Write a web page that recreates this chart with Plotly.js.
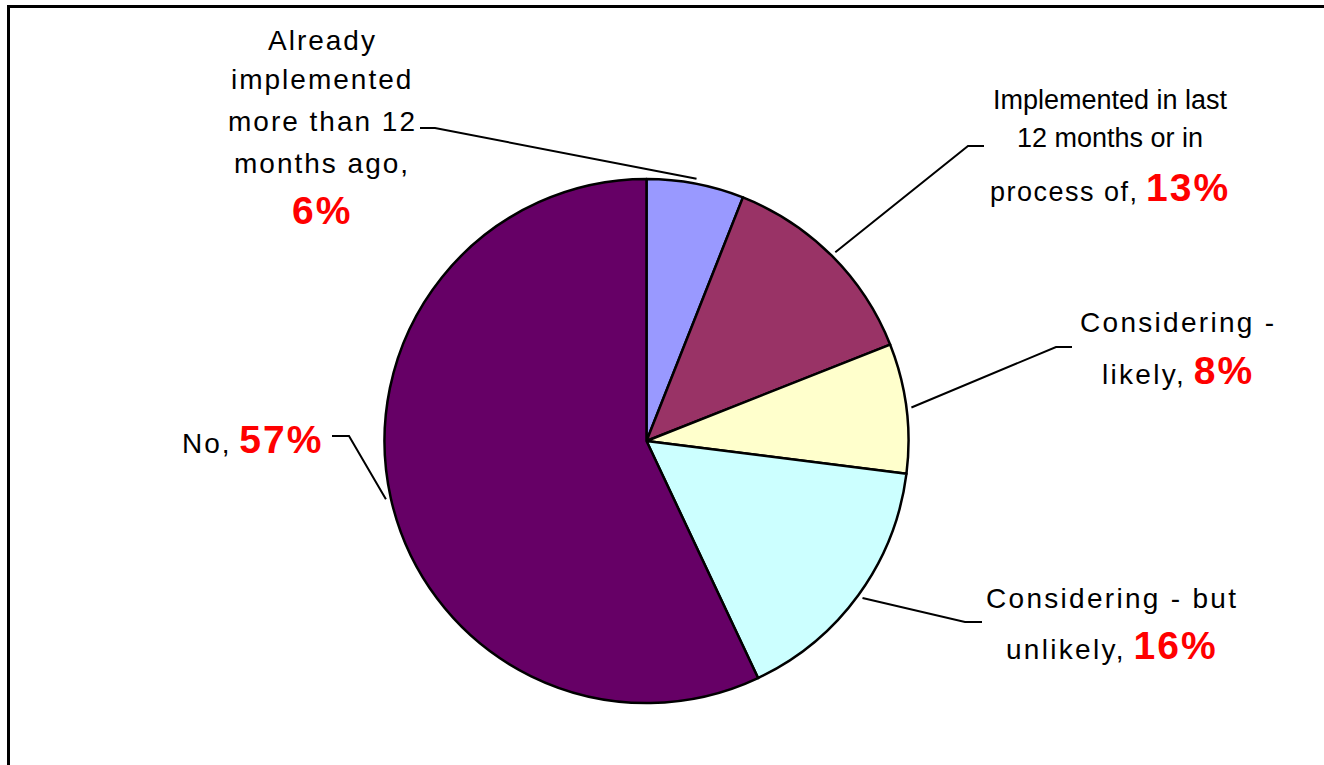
<!DOCTYPE html>
<html>
<head>
<meta charset="utf-8">
<script src="https://cdn.plot.ly/plotly-3.0.1.min.js"></script>
<style>html,body{margin:0;padding:0;background:#fff;}#chart{width:1324px;height:765px;}</style>
</head>
<body>
<div id="chart"></div>
<script>
// ---- data ----
const categories = ["Already implemented more than 12 months ago",
                    "Implemented in last 12 months or in process of",
                    "Considering - likely",
                    "Considering - but unlikely",
                    "No"];
const values = [6, 13, 8, 16, 57];
const colors = ["#9999FF", "#993366", "#FFFFCC", "#CCFFFF", "#660066"];
// label text lines (the last line gets the red percentage appended)
const labelLines = [
  ["Already", "implemented", "more than 12", "months ago,", ""],
  ["Implemented in last", "12 months or in", "process of,"],
  ["Considering -", "likely,"],
  ["Considering - but", "unlikely,"],
  ["No,"]
];

// ---- layout geometry (pixels) ----
const W = 1324, H = 765;
const CX = 646.5, CY = 441, R = 262;
const px = x => x / W, py = y => 1 - y / H;

// label placement: center x, line y's, letter spacing per line, font size
const labelPos = [
  {x: 322, ys: [40, 80, 122, 163, 210], ls: [2, 2, 2, 2, 2], size: 28},
  {x: 1110, ys: [100, 138, 187], ls: [0, 0, 1.5], size: 27},
  {x: 1178, ys: [322, 370], ls: [2.3, 2.3], size: 28},
  {x: 1112, ys: [598, 645], ls: [2.3, 2.3], size: 28},
  {x: 252, ys: [440], ls: [2], size: 28}
];
// leader elbows: [outer end x, elbow x, y]
const elbows = [
  [420, 435, 128],
  [984, 968, 146],
  [1072, 1056, 347],
  [982, 965, 622],
  [332, 349, 436]
];

const total = values.reduce((a, b) => a + b, 0);
const annotations = [];
const shapes = [];
let cum = 0;
values.forEach((v, i) => {
  const mid = (cum + v / 2) / total * 2 * Math.PI; // clockwise from 12 o'clock
  cum += v;
  const rr = R + 5;
  const ex = CX + rr * Math.sin(mid), ey = CY - rr * Math.cos(mid);
  const [ox, bx, by] = elbows[i];
  shapes.push({type: 'path', xref: 'paper', yref: 'paper',
    path: `M ${px(ox)} ${py(by)} L ${px(bx)} ${py(by)} L ${px(ex)} ${py(ey)}`,
    line: {color: '#000', width: 2}});
  const pos = labelPos[i];
  const lines = labelLines[i];
  const pct = `<span style="font-size:39px;font-weight:bold;color:#FF0000;letter-spacing:2px">${v}%</span>`;
  lines.forEach((t, k) => {
    let txt = t ? `<span style="letter-spacing:${pos.ls[k]}px">${t}</span>` : '';
    if (k === lines.length - 1) txt = txt ? txt + ' ' + pct : pct;
    annotations.push({xref: 'paper', yref: 'paper', x: px(pos.x), y: py(pos.ys[k]),
      xanchor: 'center', yanchor: 'middle', showarrow: false, text: txt,
      font: {family: 'Liberation Sans, Arial, sans-serif', size: pos.size, color: '#000'}});
  });
});

// outer frame
shapes.push({type: 'rect', xref: 'paper', yref: 'paper',
  x0: px(8.5), y0: py(6.5), x1: 1.05, y1: -0.05, line: {color: '#000', width: 3}});

const trace = {
  type: 'pie',
  labels: categories,
  values: values,
  sort: false,
  direction: 'clockwise',
  rotation: 0,
  textinfo: 'none',
  hoverinfo: 'none',
  showlegend: false,
  marker: {colors: colors, line: {color: '#000', width: 2.5}},
  domain: {x: [px(CX - R), px(CX + R)], y: [py(CY + R), py(CY - R)]}
};

Plotly.newPlot('chart', [trace], {
  width: W, height: H,
  margin: {l: 0, r: 0, t: 0, b: 0},
  paper_bgcolor: '#fff', plot_bgcolor: '#fff',
  showlegend: false,
  annotations: annotations,
  shapes: shapes
}, {displayModeBar: false, staticPlot: true});
</script>
</body>
</html>
